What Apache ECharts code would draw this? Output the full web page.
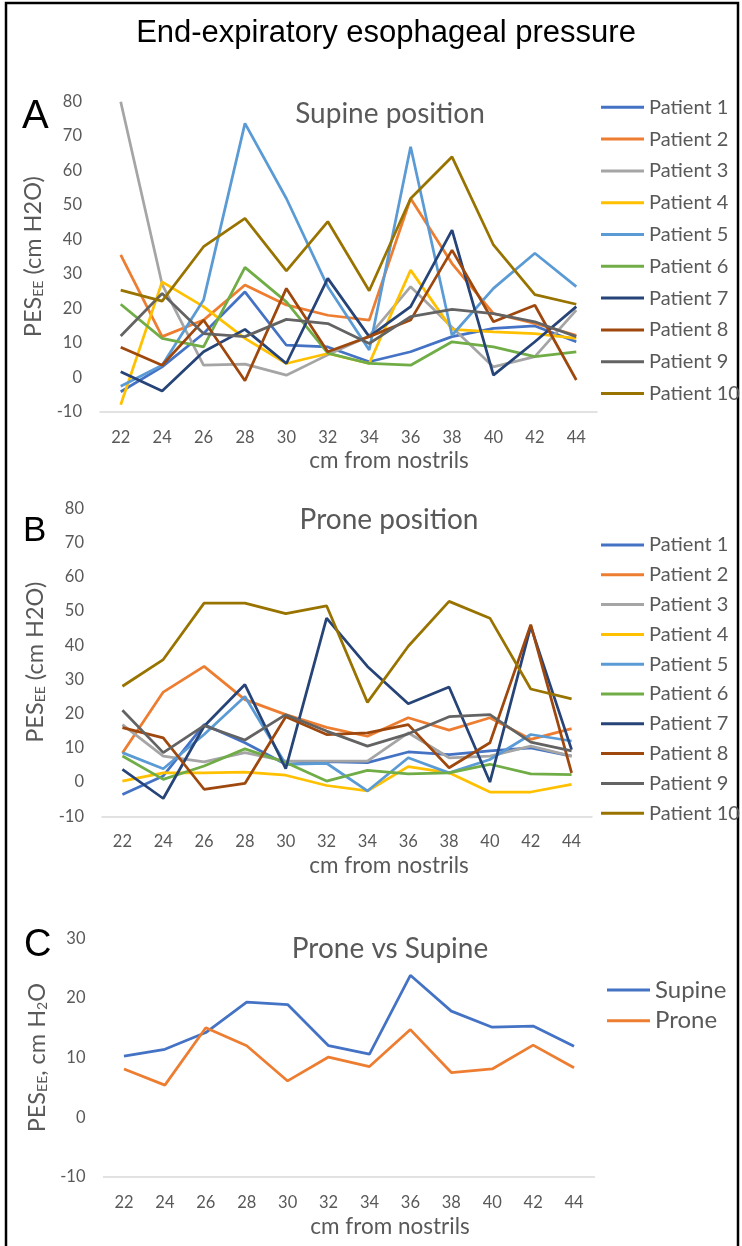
<!DOCTYPE html>
<html>
<head>
<meta charset="utf-8">
<title>End-expiratory esophageal pressure</title>
<script src="https://cdn.jsdelivr.net/npm/echarts@6/dist/echarts.min.js"></script>
<style>
  html, body { margin: 0; padding: 0; background: #ffffff; }
  #chart { width: 742px; height: 1246px; }
</style>
</head>
<body>
<div id="chart"></div>
<script>
// Distance from nostrils (cm)
const positions = ['22', '24', '26', '28', '30', '32', '34', '36', '38', '40', '42', '44'];
const patientNames = ['Patient 1', 'Patient 2', 'Patient 3', 'Patient 4', 'Patient 5',
                      'Patient 6', 'Patient 7', 'Patient 8', 'Patient 9', 'Patient 10'];
const patientColors = ['#4472C4', '#ED7D31', '#A5A5A5', '#FFC000', '#5B9BD5',
                       '#70AD47', '#264478', '#9E480E', '#636363', '#997300'];

// Supine position, PES_EE (cm H2O) per patient
const supineP1  = [-4.2, 3, 12.7, 24.8, 9.3, 8.8, 4.5, 7.4, 11.8, 14.2, 14.9, 10.3];
const supineP2  = [35.5, 11.8, 16.6, 26.8, 21, 18, 16.6, 51.9, 33, 18.5, 15.6, 12.2];
const supineP3  = [80, 27, 3.5, 3.8, 0.6, 6.5, 12, 26.3, 14.5, 3, 6, 19.5];
const supineP4  = [-8, 27.7, 20.5, 11.3, 4, 6.9, 4, 31.1, 13.9, 13.2, 12.7, 11.3];
const supineP5  = [-2.6, 3.5, 22.4, 73.7, 51.9, 26.3, 7.9, 66.9, 12.2, 25.8, 36, 26.3];
const supineP6  = [21.2, 11.3, 8.8, 31.9, 21.9, 7, 4, 3.5, 10.3, 8.8, 6, 7.4];
const supineP7  = [1.6, -4, 7.4, 13.9, 4, 28.7, 11.8, 20.5, 42.7, 0.6, 10.3, 20.5];
const supineP8  = [8.7, 3.5, 16.6, -1, 25.8, 7.4, 11.8, 16.6, 36.9, 16.1, 20.9, -0.8];
const supineP9  = [12, 24.3, 12.7, 11.8, 16.8, 15.6, 9.8, 17.6, 19.7, 18.5, 16.1, 11.8];
const supineP10 = [25.3, 22.1, 37.9, 46.1, 30.9, 45.2, 25.1, 51.9, 64, 38.4, 24, 21.2];

// Prone position, PES_EE (cm H2O) per patient
const proneP1  = [-3.6, 1.8, 16.8, 11.5, 5.2, 6, 5.7, 8.8, 8, 9.1, 10, 7.6];
const proneP2  = [8.5, 26.3, 33.8, 24.1, 19.7, 16, 13.4, 18.8, 15.2, 18.8, 12.5, 15.6];
const proneP3  = [16.8, 7.6, 5.9, 8.6, 6.1, 6.1, 6.1, 14.4, 7.1, 7.6, 10.5, 7.6];
const proneP4  = [0.3, 2.7, 2.7, 2.9, 2, -1, -2.6, 4.5, 2.7, -2.9, -2.9, -0.7];
const proneP5  = [8.6, 3.9, 13.9, 25, 5.2, 5.5, -2.6, 7.1, 2.7, 6.6, 13.9, 12];
const proneP6  = [7.6, 0.8, 4.7, 9.7, 5.7, 0.3, 3.4, 2.4, 2.7, 5.2, 2.4, 2.2];
const proneP7  = [3.7, -4.8, 16.3, 28.5, 3.9, 47.9, 33.8, 22.9, 27.8, 0, 45.5, 9.5];
const proneP8  = [15.9, 12.9, -2.1, -0.4, 19.1, 13.9, 14.4, 16.8, 4.2, 11.5, 46, 2.7];
const proneP9  = [21, 8.6, 16.5, 12.3, 19.7, 14.9, 10.5, 14.1, 19.1, 19.7, 11.7, 9.1];
const proneP10 = [28, 35.8, 52.3, 52.3, 49.2, 51.5, 23.3, 39.7, 52.8, 47.9, 27.2, 24.3];

// Group means, prone vs supine
const meanNames = ['Supine', 'Prone'];
const meanColors = ['#4472C4', '#ED7D31'];
const meanSupine = [10.25, 11.4, 14.2, 19.3, 18.9, 12, 10.6, 23.8, 17.8, 15.1, 15.3, 11.9];
const meanProne  = [8.1, 5.4, 15, 12, 6.1, 10.1, 8.5, 14.7, 7.5, 8.1, 12.1, 8.3];

const supineSets = [supineP1, supineP2, supineP3, supineP4, supineP5,
                    supineP6, supineP7, supineP8, supineP9, supineP10];
const proneSets = [proneP1, proneP2, proneP3, proneP4, proneP5,
                   proneP6, proneP7, proneP8, proneP9, proneP10];

const SANS = 'Lato, "Noto Sans", sans-serif';
const ARIAL = '"Liberation Sans", Arial, sans-serif';
const GREY_TEXT = '#595959';

const grids = [
  { left: 100, top: 101.7, width: 497, height: 310 },
  { left: 102, top: 508.3, width: 490, height: 308 },
  { left: 103.5, top: 938.3, width: 491, height: 238.7 }
];

function xAxisFor(gridIndex, shift) {
  return {
    type: 'category', gridIndex, data: positions, boundaryGap: true,
    axisLine: { onZero: false, lineStyle: { color: '#D9D9D9', width: 1.5 } },
    axisTick: { show: false },
    axisLabel: { color: GREY_TEXT, fontFamily: SANS, fontSize: 16.5, margin: 17 },
    splitLine: { show: false },
    name: 'cm from nostrils', nameLocation: 'middle', nameGap: 38,
    nameTextStyle: { color: GREY_TEXT, fontFamily: SANS, fontSize: 22.5, padding: [0, 0, 0, shift] }
  };
}

function yName() {
  return {
    color: GREY_TEXT,
    rich: {
      m: { fontFamily: SANS, fontSize: 23.5, color: GREY_TEXT, lineHeight: 23.5, verticalAlign: 'middle' },
      s: { fontFamily: SANS, fontSize: 14, color: GREY_TEXT, lineHeight: 14, verticalAlign: 'bottom' }
    }
  };
}

function yAxisFor(gridIndex, min, max, name, gap) {
  return {
    type: 'value', gridIndex, min, max, interval: 10,
    axisLine: { show: false }, axisTick: { show: false }, splitLine: { show: false },
    axisLabel: { color: GREY_TEXT, fontFamily: SANS, fontSize: 16.5, margin: 18 },
    name, nameLocation: 'middle', nameRotate: 90, nameGap: gap,
    nameTextStyle: yName()
  };
}

const series = [];
supineSets.forEach((vals, i) => series.push({
  name: patientNames[i], type: 'line', xAxisIndex: 0, yAxisIndex: 0, data: vals,
  symbol: 'none', color: patientColors[i], lineStyle: { width: 2.75 }, z: 2
}));
proneSets.forEach((vals, i) => series.push({
  name: patientNames[i], type: 'line', xAxisIndex: 1, yAxisIndex: 1, data: vals,
  symbol: 'none', color: patientColors[i], lineStyle: { width: 2.75 }, z: 2
}));
[meanSupine, meanProne].forEach((vals, i) => series.push({
  name: meanNames[i], type: 'line', xAxisIndex: 2, yAxisIndex: 2, data: vals,
  symbol: 'none', color: meanColors[i], lineStyle: { width: 2.75 }, z: 2
}));

function legendFor(names, top, left, gap, size, lh) {
  return {
    data: names, orient: 'vertical', left, top, itemGap: gap, padding: 0,
    icon: 'rect', itemWidth: 43, itemHeight: 3, selectedMode: false,
    textStyle: { color: GREY_TEXT, fontFamily: SANS, fontSize: size, lineHeight: lh }
  };
}

const subtitleStyle = { color: GREY_TEXT, fontFamily: SANS, fontSize: 28, fontWeight: 'normal' };

const option = {
  animation: false,
  backgroundColor: '#ffffff',
  title: [
    { text: 'End-expiratory esophageal pressure', left: 386, top: 18, textAlign: 'center', padding: 0,
      textStyle: { color: '#000000', fontFamily: ARIAL, fontSize: 31, fontWeight: 'normal' } },
    { text: 'Supine position', left: 390, top: 99.5, textAlign: 'center', padding: 0, textStyle: subtitleStyle },
    { text: 'Prone position', left: 389, top: 506, textAlign: 'center', padding: 0, textStyle: subtitleStyle },
    { text: 'Prone vs Supine', left: 390, top: 934.5, textAlign: 'center', padding: 0, textStyle: subtitleStyle }
  ],
  legend: [
    legendFor(patientNames, 97.3, 601, 11.8, 20, 20),
    legendFor(patientNames.slice(), 535, 601, 9.8, 20, 20),
    legendFor(meanNames, 978, 607, 6.7, 24, 24)
  ],
  grid: grids,
  xAxis: [xAxisFor(0, 81), xAxisFor(1, 84), xAxisFor(2, 82)],
  yAxis: [
    yAxisFor(0, -10, 80, '{m|PES}{s|EE}{m| (cm H2O)}', 55),
    yAxisFor(1, -10, 80, '{m|PES}{s|EE}{m| (cm H2O)}', 55),
    yAxisFor(2, -10, 30, '{m|PES}{s|EE}{m|, cm H}{s|2}{m|O}', 49)
  ],
  graphic: [
    { type: 'rect', shape: { x: 6, y: 3, width: 732, height: 1270 },
      style: { fill: 'none', stroke: '#000000', lineWidth: 2.5 }, silent: true },
    { type: 'text', style: { text: 'A', x: 22, y: 117, font: '40px ' + ARIAL, fill: '#000', textVerticalAlign: 'middle' } },
    { type: 'text', style: { text: 'B', x: 23, y: 531, font: '35px ' + ARIAL, fill: '#000', textVerticalAlign: 'middle' } },
    { type: 'text', style: { text: 'C', x: 24, y: 946, font: '38px ' + ARIAL, fill: '#000', textVerticalAlign: 'middle' } }
  ],
  series
};

const chart = echarts.init(document.getElementById('chart'), null, { renderer: 'canvas' });
chart.setOption(option);
</script>
</body>
</html>
